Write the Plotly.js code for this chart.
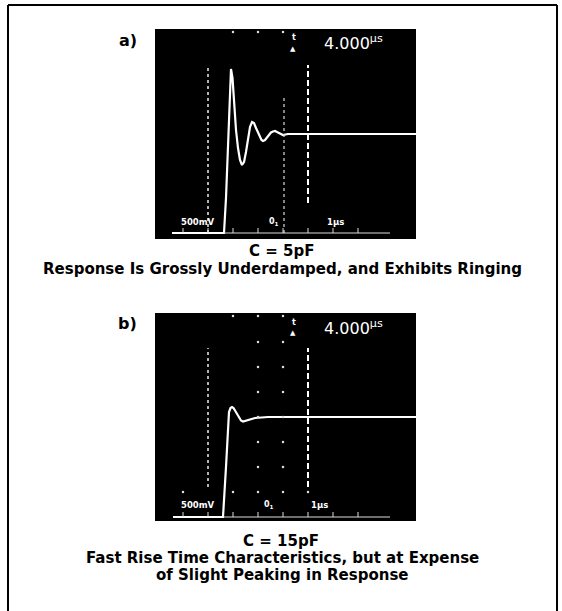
<!DOCTYPE html>
<html>
<head>
<meta charset="utf-8">
<script src="https://cdn.plot.ly/plotly-3.0.1.min.js"></script>
<style>html,body{margin:0;padding:0;background:#fff;}#chart{width:562px;height:611px;}</style>
</head>
<body>
<div id="chart"></div>
<script>
// ---- data (time in µs, 1 µs/div; voltage in V, 500 mV/div) ----
const timeA = [-1.44, 0.64, 0.72, 0.80, 0.86, 0.92, 0.98, 1.04, 1.12, 1.20, 1.28, 1.36, 1.44, 1.52, 1.60, 1.68, 1.76, 1.84, 1.92, 2.00, 2.08, 2.14, 2.20, 2.28, 2.36, 2.44, 2.52, 2.60, 2.68, 2.76, 2.84, 2.92, 3.00, 3.10, 3.20, 8.32];
const voltA = [0, 0, 0.70, 1.66, 2.60, 3.28, 3.10, 2.66, 2.06, 1.70, 1.46, 1.36, 1.42, 1.62, 1.90, 2.12, 2.22, 2.20, 2.10, 2.00, 1.92, 1.86, 1.84, 1.86, 1.91, 1.97, 2.01, 2.03, 2.04, 2.02, 2.00, 1.97, 1.96, 1.97, 1.98, 1.98];
const timeB = [-1.40, 0.60, 0.72, 0.84, 0.90, 0.96, 1.02, 1.08, 1.16, 1.24, 1.32, 1.40, 1.48, 1.56, 1.68, 1.88, 2.40, 8.32];
const voltB = [0, 0, 1.00, 2.10, 2.18, 2.20, 2.18, 2.13, 2.05, 1.98, 1.93, 1.91, 1.92, 1.94, 1.96, 1.98, 2.00, 2.00];
const cursorTimes = [0, 4];
const deltaT = "4.000";
const voltsPerDiv = "500mV";
const timePerDiv = "1µs";
const panelLabels = ["a)", "b)"];
const capTitles = ["C = 5pF", "C = 15pF"];
const capLinesA = ["Response Is Grossly Underdamped, and Exhibits Ringing"];
const capLinesB = ["Fast Rise Time Characteristics, but at Expense", "of Slight Peaking in Response"];

// ---- layout geometry ----
const W = 562, H = 611;
const px = v => v / W, py = v => 1 - v / H;
const xr = [-2.12, 8.32];

const traces = [
  {x: timeA, y: voltA, xaxis: 'x', yaxis: 'y', mode: 'lines', line: {color: '#fff', width: 2.2}, hoverinfo: 'skip'},
  {x: timeB, y: voltB, xaxis: 'x2', yaxis: 'y2', mode: 'lines', line: {color: '#fff', width: 2.2}, hoverinfo: 'skip'}
];

// graticule dots (screen furniture)
const gA = {x: [], y: []}, gB = {x: [], y: []};
[1, 2, 3].forEach(t => { gA.x.push(t); gA.y.push(4.02); });
[2, 3].forEach(t => { for (let v = 0.5; v <= 3.51; v += 0.5) { gB.x.push(t); gB.y.push(v); } });
[-1, 1, 4].forEach(t => { gB.x.push(t); gB.y.push(0.5); });
[1, 2, 3].forEach(t => { gB.x.push(t); gB.y.push(4.02); });
traces.push({x: gA.x, y: gA.y, xaxis: 'x', yaxis: 'y', mode: 'markers', marker: {color: '#ddd', size: 2.5}, hoverinfo: 'skip'});
traces.push({x: gB.x, y: gB.y, xaxis: 'x2', yaxis: 'y2', mode: 'markers', marker: {color: '#ddd', size: 2.5}, hoverinfo: 'skip'});

const shapes = [];
// outer frame (open at bottom)
const fr = {type: 'line', xref: 'paper', yref: 'paper', line: {color: '#000', width: 2}};
shapes.push(Object.assign({}, fr, {x0: px(8), x1: px(8), y0: 0, y1: py(5)}));
shapes.push(Object.assign({}, fr, {x0: px(557), x1: px(557), y0: 0, y1: py(5)}));
shapes.push(Object.assign({}, fr, {x0: px(8), x1: px(557), y0: py(5), y1: py(5)}));

function screenFurniture(xa, ya, topV, botV, midTop) {
  shapes.push({type: 'line', xref: xa, yref: ya, x0: cursorTimes[0], x1: cursorTimes[0], y0: botV, y1: topV, line: {color: '#eee', width: 1.5, dash: 'dot'}});
  shapes.push({type: 'line', xref: xa, yref: ya, x0: cursorTimes[1], x1: cursorTimes[1], y0: 0.6, y1: topV, line: {color: '#fff', width: 2, dash: '6px,3px'}});
  if (midTop !== null) shapes.push({type: 'line', xref: xa, yref: ya, x0: 3.04, x1: 3.04, y0: 0, y1: midTop, line: {color: '#ddd', width: 1.2, dash: 'dot'}});
  shapes.push({type: 'line', xref: xa, yref: ya, x0: 0.64, x1: 7.28, y0: 0, y1: 0, line: {color: '#ddd', width: 1}});
  for (let t = -1; t <= 6; t++) shapes.push({type: 'line', xref: xa, yref: ya, x0: t, x1: t, y0: 0, y1: 0.1, line: {color: '#ddd', width: 1}});
}
screenFurniture('x', 'y', 3.36, 0, 2.72);
screenFurniture('x2', 'y2', 3.38, 0.6, null);

const ann = [];
const capFont = {family: 'DejaVu Sans, sans-serif', size: 15, color: '#000'};
const lcd = {family: 'DejaVu Sans, sans-serif', color: '#fff'};
function screenText(xa, ya, vRow, tZero, tUnit) {
  ann.push({xref: xa, yref: ya, x: 4.55, y: 3.8, xanchor: 'left', yanchor: 'middle', showarrow: false,
            text: deltaT + '<sup>µs</sup>', font: Object.assign({size: 16}, lcd)});
  ann.push({xref: xa, yref: ya, x: 3.42, y: 3.9, showarrow: false, text: '<b>t</b>', font: Object.assign({size: 8}, lcd)});
  ann.push({xref: xa, yref: ya, x: 3.38, y: 3.68, showarrow: false, text: '▲', font: Object.assign({size: 7}, lcd)});
  ann.push({xref: xa, yref: ya, x: -0.42, y: vRow, showarrow: false, text: '<b>' + voltsPerDiv + '</b>', font: Object.assign({size: 8.5}, lcd)});
  ann.push({xref: xa, yref: ya, x: tZero, y: vRow, showarrow: false, text: '<b>0<sub>1</sub></b>', font: Object.assign({size: 8}, lcd)});
  ann.push({xref: xa, yref: ya, x: tUnit, y: vRow, showarrow: false, text: '<b>' + timePerDiv + '</b>', font: Object.assign({size: 8.5}, lcd)});
}
screenText('x', 'y', 0.22, 2.62, 5.1);
screenText('x2', 'y2', 0.24, 2.42, 4.45);

function cap(text, xPix, yPix, anchor, size) {
  ann.push({xref: 'paper', yref: 'paper', x: px(xPix), y: py(yPix), xanchor: anchor, yanchor: 'middle', showarrow: false,
            text: '<b>' + text + '</b>', font: Object.assign({}, capFont, size ? {size: size} : {})});
}
cap(panelLabels[0], 139, 40, 'right', 16);
cap(panelLabels[1], 139, 323, 'right', 16);
cap(capTitles[0], 281, 251, 'center');
capLinesA.forEach((t, i) => cap(t, 282, 269 + 17 * i, 'center'));
cap(capTitles[1], 281, 541, 'center');
capLinesB.forEach((t, i) => cap(t, 282, 558 + 17 * i, 'center'));

const ax = {visible: false, showgrid: false, zeroline: false, fixedrange: true};
const layout = {
  width: W, height: H, margin: {l: 0, r: 0, t: 0, b: 0},
  paper_bgcolor: '#fff', plot_bgcolor: '#000', showlegend: false,
  xaxis: Object.assign({}, ax, {domain: [px(155), px(416)], range: xr, anchor: 'y'}),
  yaxis: Object.assign({}, ax, {domain: [py(239), py(29)], range: [-0.12, 4.08], anchor: 'x'}),
  xaxis2: Object.assign({}, ax, {domain: [px(155), px(416)], range: xr, anchor: 'y2'}),
  yaxis2: Object.assign({}, ax, {domain: [py(521), py(313)], range: [-0.08, 4.08], anchor: 'x2'}),
  shapes: shapes, annotations: ann
};
Plotly.newPlot('chart', traces, layout, {displayModeBar: false, staticPlot: true});
</script>
</body>
</html>
